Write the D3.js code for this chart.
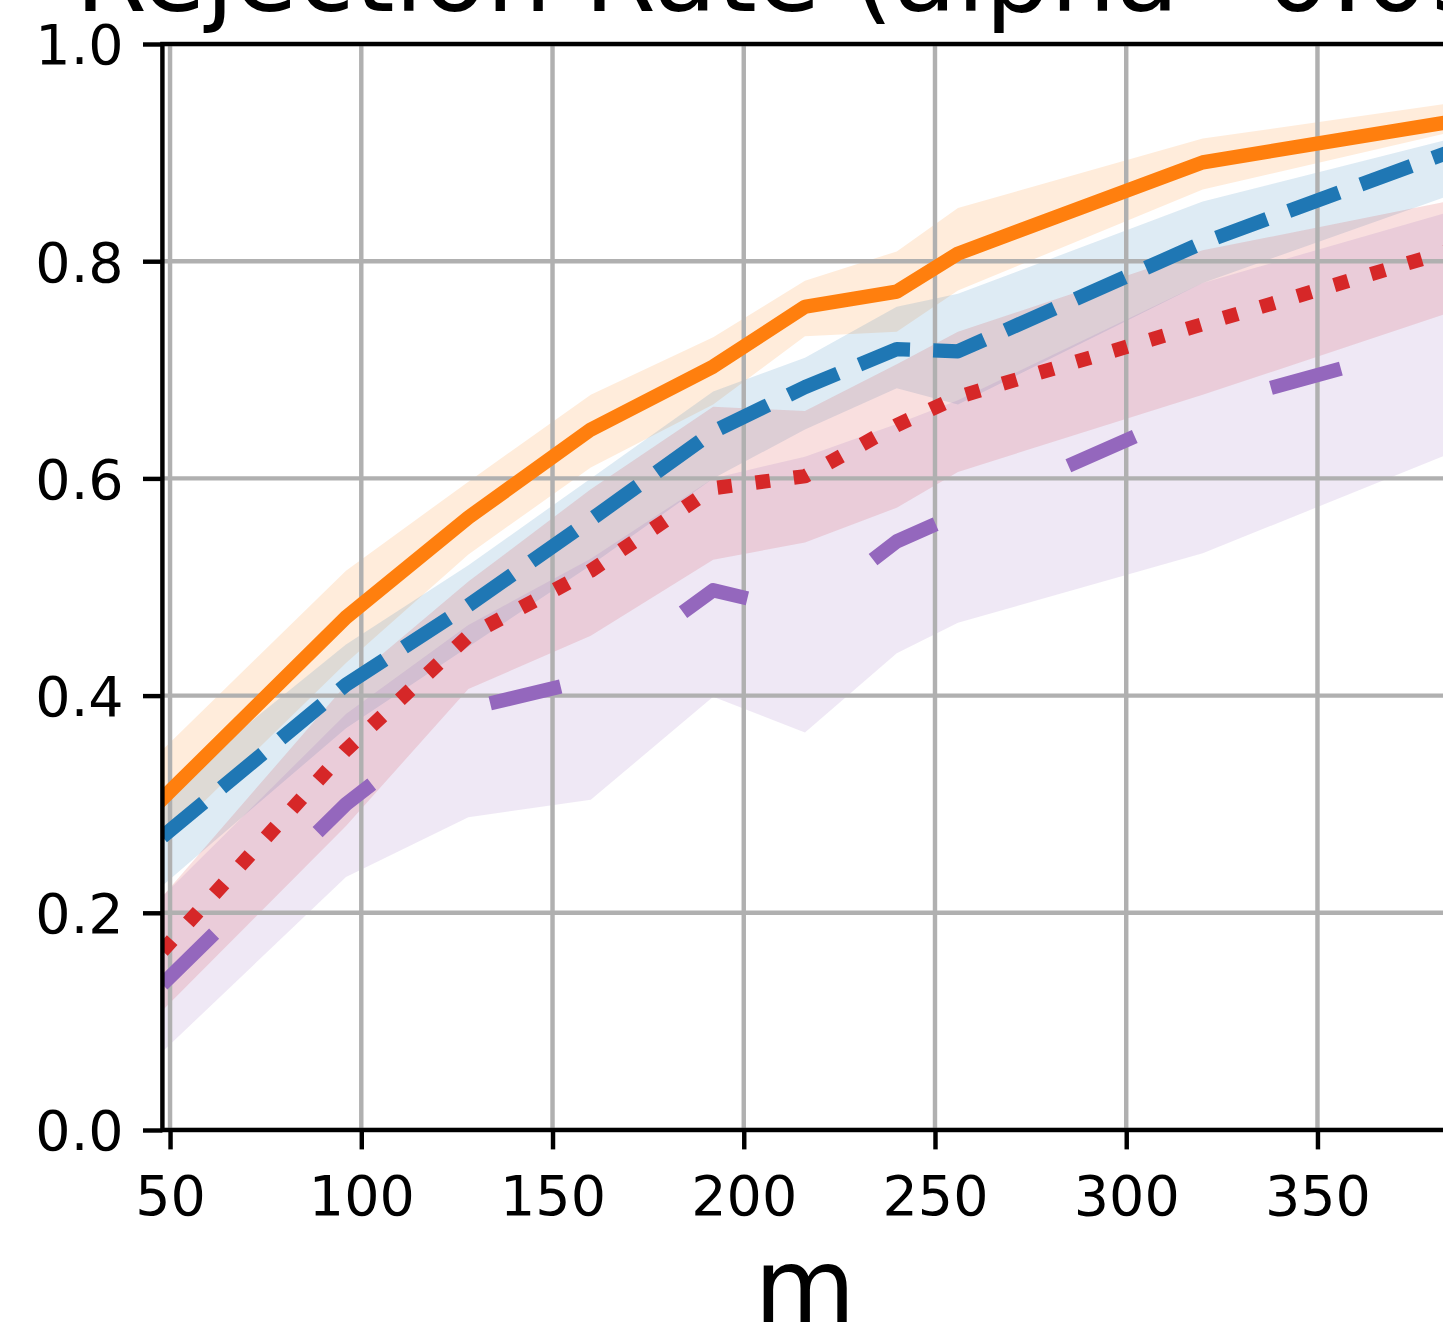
<!DOCTYPE html>
<html>
<head>
<meta charset="utf-8">
<script src="https://cdn.jsdelivr.net/npm/d3@7"></script>
<style>
  html, body { margin: 0; padding: 0; background: #ffffff; overflow: hidden; }
  svg { display: block; }
  text { font-family: "DejaVu Sans", sans-serif; fill: #000; }
</style>
</head>
<body>
<svg id="chart" width="1443" height="1329"></svg>
<script>
// ---- data ----
const mValues = [48, 96, 128, 160, 192, 216, 240, 256, 320, 384];

const orangeMean = [0.305, 0.472, 0.564, 0.645, 0.703, 0.758, 0.772, 0.807, 0.891, 0.928];
const orangeHigh = [0.350, 0.515, 0.597, 0.677, 0.730, 0.782, 0.809, 0.849, 0.913, 0.945];
const orangeLow  = [0.265, 0.430, 0.530, 0.610, 0.668, 0.731, 0.735, 0.773, 0.866, 0.918];

const blueMean = [0.270, 0.410, 0.483, 0.562, 0.643, 0.684, 0.719, 0.717, 0.817, 0.900];
const blueHigh = [0.310, 0.447, 0.520, 0.600, 0.680, 0.711, 0.758, 0.770, 0.855, 0.912];
const blueLow  = [0.225, 0.370, 0.445, 0.520, 0.600, 0.645, 0.683, 0.668, 0.780, 0.860];

const redMean = [0.165, 0.350, 0.455, 0.515, 0.591, 0.602, 0.649, 0.675, 0.742, 0.809];
const redHigh = [0.215, 0.410, 0.505, 0.590, 0.666, 0.662, 0.705, 0.735, 0.810, 0.855];
const redLow  = [0.110, 0.280, 0.406, 0.455, 0.525, 0.541, 0.573, 0.606, 0.677, 0.752];

const purpleMean = [0.134, 0.300, 0.388, 0.415, 0.497, 0.477, 0.542, 0.567, 0.666, 0.728];
const purpleHigh = [0.215, 0.383, 0.465, 0.526, 0.600, 0.620, 0.650, 0.672, 0.780, 0.845];
const purpleLow  = [0.072, 0.233, 0.288, 0.304, 0.399, 0.366, 0.439, 0.467, 0.531, 0.622];

const xTicks = [50, 100, 150, 200, 250, 300, 350];
const yTicks = [0.0, 0.2, 0.4, 0.6, 0.8, 1.0];
const titleText = "Rejection Rate (alpha=0.05)";
const xLabelText = "m";

// ---- layout ----
const svg = d3.select("#chart");
const plotLeft = 162.4, plotRight = 1447.5, plotTop = 44, plotBottom = 1130;
const lw = 14.3;        // series line width
const du = 14.5;        // dash unit
const thin = 4.44;      // spines / grid / ticks
const tickLen = 19.4, tickPad = 19.4;

const x = d3.scaleLinear().domain([48, 384]).range([plotLeft, plotRight]);
const y = d3.scaleLinear().domain([0, 1]).range([plotBottom, plotTop]);

svg.append("defs").append("clipPath").attr("id", "plotclip")
  .append("rect").attr("x", plotLeft).attr("y", plotTop)
  .attr("width", plotRight - plotLeft).attr("height", plotBottom - plotTop);

const series = [
  { mean: orangeMean, low: orangeLow, high: orangeHigh, color: "#ff7f0e", dash: null, cap: "square" },
  { mean: blueMean,   low: blueLow,   high: blueHigh,   color: "#1f77b4", dash: [3.7 * du, 1.6 * du], cap: "butt" },
  { mean: redMean,    low: redLow,    high: redHigh,    color: "#d62728", dash: [1 * du, 1.65 * du], cap: "butt" },
  { mean: purpleMean, low: purpleLow, high: purpleHigh, color: "#9467bd", dash: [5 * du, 10 * du], cap: "butt" }
];

const plot = svg.append("g").attr("clip-path", "url(#plotclip)");

// bands
const area = d3.area()
  .x((d, i) => x(mValues[i]))
  .y0(d => y(d[0]))
  .y1(d => y(d[1]));
series.forEach(s => {
  const pts = mValues.map((m, i) => [s.low[i], s.high[i]]);
  plot.append("path").datum(pts)
    .attr("d", area)
    .attr("fill", s.color)
    .attr("fill-opacity", 0.15)
    .attr("stroke", "none");
});

// grid
const grid = svg.append("g").attr("clip-path", "url(#plotclip)");
xTicks.forEach(t => {
  grid.append("line").attr("x1", x(t)).attr("x2", x(t)).attr("y1", plotTop).attr("y2", plotBottom)
    .attr("stroke", "#b0b0b0").attr("stroke-width", thin);
});
yTicks.forEach(t => {
  grid.append("line").attr("x1", plotLeft).attr("x2", plotRight).attr("y1", y(t)).attr("y2", y(t))
    .attr("stroke", "#b0b0b0").attr("stroke-width", thin);
});

// lines
const lineGen = d3.line().x((d, i) => x(mValues[i])).y(d => y(d));
const linesG = svg.append("g").attr("clip-path", "url(#plotclip)");
series.forEach(s => {
  const p = linesG.append("path").datum(s.mean)
    .attr("d", lineGen)
    .attr("fill", "none")
    .attr("stroke", s.color)
    .attr("stroke-width", lw)
    .attr("stroke-linejoin", "round")
    .attr("stroke-linecap", s.cap);
  if (s.dash) p.attr("stroke-dasharray", s.dash.join(" "));
});

// axes via d3
const xAxis = d3.axisBottom(x).tickValues(xTicks).tickFormat(d3.format("d"))
  .tickSize(tickLen).tickPadding(tickPad);
const yAxis = d3.axisLeft(y).tickValues(yTicks).tickFormat(d3.format(".1f"))
  .tickSize(tickLen).tickPadding(tickPad);

const gx = svg.append("g").attr("transform", `translate(0,${plotBottom})`).call(xAxis);
const gy = svg.append("g").attr("transform", `translate(${plotLeft},0)`).call(yAxis);
[gx, gy].forEach(g => {
  g.select(".domain").remove();
  g.selectAll(".tick line").attr("stroke", "#000").attr("stroke-width", thin);
  g.selectAll(".tick text").attr("font-size", 55.5).attr("font-family", "DejaVu Sans").attr("fill", "#000");
});
gx.selectAll(".tick text").attr("dy", null).attr("y", 1215 - plotBottom);
gy.selectAll(".tick text").attr("dy", "0.36em");

// spines
svg.append("rect").attr("x", plotLeft).attr("y", plotTop)
  .attr("width", plotRight - plotLeft).attr("height", plotBottom - plotTop)
  .attr("fill", "none").attr("stroke", "#000").attr("stroke-width", thin)
  .attr("stroke-linejoin", "miter");

// title and label
svg.append("text").attr("x", (plotLeft + plotRight) / 2).attr("y", 11)
  .attr("text-anchor", "middle").attr("font-size", 103).text(titleText);
svg.append("text").attr("x", (plotLeft + plotRight) / 2).attr("y", 1322)
  .attr("text-anchor", "middle").attr("font-size", 104).text(xLabelText);
</script>
</body>
</html>
